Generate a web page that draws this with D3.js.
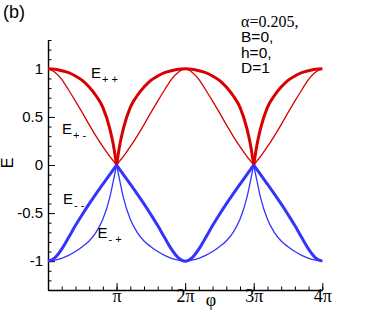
<!DOCTYPE html>
<html>
<head>
<meta charset="utf-8">
<script src="https://cdn.jsdelivr.net/npm/d3@7"></script>
<style>
  body { margin: 0; background: #fff; }
  svg { display: block; }
  .tick text { fill: #000; }
</style>
</head>
<body>
<div id="chart"></div>
<script>
// phi in units of pi
var phi = [0, 0.1, 0.2, 0.3, 0.4, 0.5, 0.6, 0.7, 0.8, 0.9, 0.95, 1.0,
           1.05, 1.1, 1.2, 1.3, 1.4, 1.5, 1.6, 1.7, 1.8, 1.9, 2.0,
           2.1, 2.2, 2.3, 2.4, 2.5, 2.6, 2.7, 2.8, 2.9, 2.95, 3.0,
           3.05, 3.1, 3.2, 3.3, 3.4, 3.5, 3.6, 3.7, 3.8, 3.9, 4.0];

var Epp = [1.00, 0.995, 0.98, 0.96, 0.925, 0.88, 0.81, 0.72, 0.60, 0.38, 0.22, 0.00,
           0.22, 0.38, 0.60, 0.72, 0.81, 0.88, 0.925, 0.96, 0.98, 0.995, 1.00,
           0.995, 0.98, 0.96, 0.925, 0.88, 0.81, 0.72, 0.60, 0.38, 0.22, 0.00,
           0.22, 0.38, 0.60, 0.72, 0.81, 0.88, 0.925, 0.96, 0.98, 0.995, 1.00];

var Epm = [1.00, 0.965, 0.89, 0.78, 0.665, 0.545, 0.42, 0.30, 0.19, 0.09, 0.045, 0.00,
           0.045, 0.09, 0.19, 0.30, 0.42, 0.545, 0.665, 0.78, 0.89, 0.965, 1.00,
           0.965, 0.89, 0.78, 0.665, 0.545, 0.42, 0.30, 0.19, 0.09, 0.045, 0.00,
           0.045, 0.09, 0.19, 0.30, 0.42, 0.545, 0.665, 0.78, 0.89, 0.965, 1.00];

var Emm = [-1.00, -0.965, -0.875, -0.755, -0.63, -0.515, -0.405, -0.30, -0.20, -0.10, -0.05, 0.00,
           -0.05, -0.10, -0.20, -0.30, -0.405, -0.515, -0.63, -0.755, -0.875, -0.965, -1.00,
           -0.965, -0.875, -0.755, -0.63, -0.515, -0.405, -0.30, -0.20, -0.10, -0.05, 0.00,
           -0.05, -0.10, -0.20, -0.30, -0.405, -0.515, -0.63, -0.755, -0.875, -0.965, -1.00];

var Emp = [-1.00, -0.99, -0.97, -0.94, -0.90, -0.85, -0.79, -0.70, -0.565, -0.34, -0.175, 0.00,
           -0.175, -0.34, -0.565, -0.70, -0.79, -0.85, -0.90, -0.94, -0.97, -0.99, -1.00,
           -0.99, -0.97, -0.94, -0.90, -0.85, -0.79, -0.70, -0.565, -0.34, -0.175, 0.00,
           -0.175, -0.34, -0.565, -0.70, -0.79, -0.85, -0.90, -0.94, -0.97, -0.99, -1.00];

// cusp points split the curves into smooth pieces
var pieces = [[0, 1], [1, 3], [3, 4]];

var xTicks = [1, 2, 3, 4];
var xTickLabels = ["π", "2π", "3π", "4π"];
var yTicks = [-1, -0.5, 0, 0.5, 1];
var yTickLabels = ["-1", "-0.5", "0", "0.5", "1"];
var params = ["α=0.205,", "B=0,", "h=0,", "D=1"];

var width = 368, height = 327;
var RED = "#d80000", BLUE = "#3434ff";

var svg = d3.select("#chart").append("svg")
    .attr("width", width)
    .attr("height", height);

var x = d3.scaleLinear().domain([0, 4]).range([48, 322.3]);
var y = d3.scaleLinear().domain([-1.3, 1.3]).range([290, 40]);

// minor ticks
svg.append("g")
    .attr("transform", "translate(0,290)")
    .call(d3.axisBottom(x).tickValues(d3.range(0, 4.01, 0.2)).tickSize(-3.5).tickSizeOuter(0).tickFormat(""))
    .call(function(g) { g.select(".domain").remove(); });
svg.append("g")
    .attr("transform", "translate(48,0)")
    .call(d3.axisLeft(y).tickValues(d3.range(-13, 14, 1).map(function(d) { return d / 10; })).tickSize(-3.5).tickSizeOuter(0).tickFormat(""))
    .call(function(g) { g.select(".domain").remove(); });

// major ticks + labels
var xAxis = svg.append("g")
    .attr("transform", "translate(0,290)")
    .call(d3.axisBottom(x).tickValues(xTicks).tickSize(-7).tickSizeOuter(0)
        .tickFormat(function(d, i) { return xTickLabels[i]; }));
xAxis.selectAll("text")
    .attr("y", 11.5)
    .attr("dy", 0)
    .attr("font-family", "'Liberation Serif', 'Times New Roman', serif")
    .attr("font-size", 18);

var yAxis = svg.append("g")
    .attr("transform", "translate(48,0)")
    .call(d3.axisLeft(y).tickValues(yTicks).tickSize(-7).tickSizeOuter(0)
        .tickFormat(function(d, i) { return yTickLabels[i]; }));
yAxis.selectAll("text")
    .attr("x", -5)
    .attr("font-family", "'Liberation Sans', Arial, sans-serif")
    .attr("font-size", 15);

svg.selectAll(".domain").attr("stroke", "#000").attr("stroke-width", 1.4);
svg.selectAll(".tick line").attr("stroke", "#000").attr("stroke-width", 1);

// curves
function drawCurve(vals, color, w) {
    var pts = phi.map(function(p, i) { return [p, vals[i]]; });
    var line = d3.line()
        .x(function(d) { return x(d[0]); })
        .y(function(d) { return y(d[1]); })
        .curve(d3.curveMonotoneX);
    pieces.forEach(function(r) {
        svg.append("path")
            .datum(pts.filter(function(d) { return d[0] >= r[0] && d[0] <= r[1]; }))
            .attr("d", line)
            .attr("fill", "none")
            .attr("stroke", color)
            .attr("stroke-width", w)
            .attr("stroke-linejoin", "round");
    });
}
drawCurve(Epm, RED, 1.3);
drawCurve(Epp, RED, 3);
drawCurve(Emp, BLUE, 1.3);
drawCurve(Emm, BLUE, 3);

// curve labels
function curveLabel(px, py, sub) {
    var t = svg.append("text")
        .attr("x", px).attr("y", py)
        .attr("font-family", "'Liberation Sans', Arial, sans-serif")
        .attr("font-size", 15)
        .text("E");
    t.append("tspan")
        .attr("dx", 1).attr("dy", 5)
        .attr("font-size", 11)
        .text(sub);
}
curveLabel(91, 77.5, "+ +");
curveLabel(62, 134, "+ -");
curveLabel(63, 203.5, "- -");
curveLabel(97.5, 238, "- +");

// axis titles
svg.append("text")
    .attr("transform", "translate(13,163) rotate(-90)")
    .attr("text-anchor", "middle")
    .attr("font-family", "'Liberation Sans', Arial, sans-serif")
    .attr("font-size", 16)
    .text("E");
svg.append("text")
    .attr("x", 211).attr("y", 306)
    .attr("text-anchor", "middle")
    .attr("font-family", "'Liberation Serif', 'Times New Roman', serif")
    .attr("font-size", 18)
    .text("φ");

svg.append("text")
    .attr("x", 3).attr("y", 18)
    .attr("font-family", "'Liberation Sans', Arial, sans-serif")
    .attr("font-size", 18)
    .text("(b)");

// parameter block
svg.selectAll(".param")
    .data(params)
    .enter().append("text")
    .attr("class", "param")
    .attr("x", 241)
    .attr("y", function(d, i) { return 26.7 + i * 15.5; })
    .attr("font-family", function(d, i) { return i === 0 ? "'Liberation Serif', 'Times New Roman', serif" : "'Liberation Sans', Arial, sans-serif"; })
    .attr("font-size", function(d, i) { return i === 0 ? 16 : 15.5; })
    .text(function(d) { return d; });
</script>
</body>
</html>
